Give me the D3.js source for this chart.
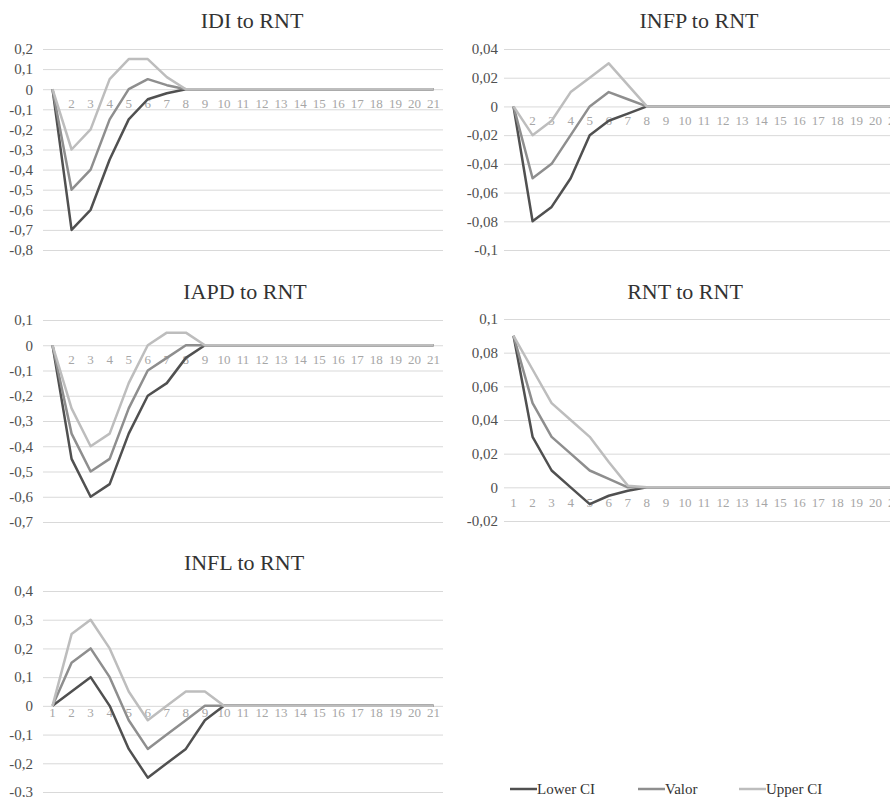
<!DOCTYPE html>
<html>
<head>
<meta charset="utf-8">
<script src="https://cdn.jsdelivr.net/npm/d3@7"></script>
<style>
  body { margin: 0; background: #fff; }
</style>
</head>
<body>
<script>
// periods on the x axis
const periods = [1, 2, 3, 4, 5, 6, 7, 8, 9, 10, 11, 12, 13, 14, 15, 16, 17, 18, 19, 20, 21];
const seriesNames = ["Lower CI", "Valor", "Upper CI"];

// IDI to RNT
const idiLower = [0, -0.7, -0.6, -0.35, -0.15, -0.05, -0.02, 0, 0, 0, 0, 0, 0, 0, 0, 0, 0, 0, 0, 0, 0];
const idiValor = [0, -0.5, -0.4, -0.15, 0, 0.05, 0.02, 0, 0, 0, 0, 0, 0, 0, 0, 0, 0, 0, 0, 0, 0];
const idiUpper = [0, -0.3, -0.2, 0.05, 0.15, 0.15, 0.06, 0, 0, 0, 0, 0, 0, 0, 0, 0, 0, 0, 0, 0, 0];
const idiTicks = [0.2, 0.1, 0, -0.1, -0.2, -0.3, -0.4, -0.5, -0.6, -0.7, -0.8];

// INFP to RNT
const infpLower = [0, -0.08, -0.07, -0.05, -0.02, -0.01, -0.005, 0, 0, 0, 0, 0, 0, 0, 0, 0, 0, 0, 0, 0, 0];
const infpValor = [0, -0.05, -0.04, -0.02, 0, 0.01, 0.005, 0, 0, 0, 0, 0, 0, 0, 0, 0, 0, 0, 0, 0, 0];
const infpUpper = [0, -0.02, -0.01, 0.01, 0.02, 0.03, 0.015, 0, 0, 0, 0, 0, 0, 0, 0, 0, 0, 0, 0, 0, 0];
const infpTicks = [0.04, 0.02, 0, -0.02, -0.04, -0.06, -0.08, -0.1];

// IAPD to RNT
const iapdLower = [0, -0.45, -0.6, -0.55, -0.35, -0.2, -0.15, -0.05, 0, 0, 0, 0, 0, 0, 0, 0, 0, 0, 0, 0, 0];
const iapdValor = [0, -0.35, -0.5, -0.45, -0.25, -0.1, -0.05, 0, 0, 0, 0, 0, 0, 0, 0, 0, 0, 0, 0, 0, 0];
const iapdUpper = [0, -0.25, -0.4, -0.35, -0.15, 0, 0.05, 0.05, 0, 0, 0, 0, 0, 0, 0, 0, 0, 0, 0, 0, 0];
const iapdTicks = [0.1, 0, -0.1, -0.2, -0.3, -0.4, -0.5, -0.6, -0.7];

// RNT to RNT
const rntLower = [0.09, 0.03, 0.01, 0, -0.01, -0.005, -0.002, 0, 0, 0, 0, 0, 0, 0, 0, 0, 0, 0, 0, 0, 0];
const rntValor = [0.09, 0.05, 0.03, 0.02, 0.01, 0.005, 0, 0, 0, 0, 0, 0, 0, 0, 0, 0, 0, 0, 0, 0, 0];
const rntUpper = [0.09, 0.07, 0.05, 0.04, 0.03, 0.015, 0.001, 0, 0, 0, 0, 0, 0, 0, 0, 0, 0, 0, 0, 0, 0];
const rntTicks = [0.1, 0.08, 0.06, 0.04, 0.02, 0, -0.02];

// INFL to RNT
const inflLower = [0, 0.05, 0.1, 0, -0.15, -0.25, -0.2, -0.15, -0.05, 0, 0, 0, 0, 0, 0, 0, 0, 0, 0, 0, 0];
const inflValor = [0, 0.15, 0.2, 0.1, -0.05, -0.15, -0.1, -0.05, 0, 0, 0, 0, 0, 0, 0, 0, 0, 0, 0, 0, 0];
const inflUpper = [0, 0.25, 0.3, 0.2, 0.05, -0.05, 0, 0.05, 0.05, 0, 0, 0, 0, 0, 0, 0, 0, 0, 0, 0, 0];
const inflTicks = [0.4, 0.3, 0.2, 0.1, 0, -0.1, -0.2, -0.3];

const colors = ["#505050", "#8e8e8e", "#bdbdbd"];
const FONT = "'Liberation Serif', 'Times New Roman', serif";

// panel layout (pixel positions in the picture)
const panels = [
    {title: "IDI to RNT", series: [idiLower, idiValor, idiUpper], ticks: idiTicks,
     x0: 43, top: 49, bottom: 250, pad: 10, titleX: 252, titleY: 28, labelOff: 19, hideFirst: true},
    {title: "INFP to RNT", series: [infpLower, infpValor, infpUpper], ticks: infpTicks,
     x0: 504, top: 49, bottom: 250, pad: 6, titleX: 699, titleY: 28, labelOff: 19, hideFirst: true},
    {title: "IAPD to RNT", series: [iapdLower, iapdValor, iapdUpper], ticks: iapdTicks,
     x0: 43, top: 320, bottom: 522, pad: 10, titleX: 245, titleY: 299, labelOff: 19, hideFirst: true},
    {title: "RNT to RNT", series: [rntLower, rntValor, rntUpper], ticks: rntTicks,
     x0: 504, top: 319, bottom: 521, pad: 6, titleX: 685, titleY: 299, labelOff: 20, hideFirst: false},
    {title: "INFL to RNT", series: [inflLower, inflValor, inflUpper], ticks: inflTicks,
     x0: 43, top: 591, bottom: 792, pad: 10, titleX: 244, titleY: 570, labelOff: 11, hideFirst: false}
];

const plotWidth = 400;
const fmt = d => d === 0 ? "0" : String(d).replace(".", ",");

const svg = d3.select("body").append("svg")
    .attr("width", 890)
    .attr("height", 797)
    .style("display", "block")
    .style("font-family", FONT);

panels.forEach(p => {
    const g = svg.append("g");

    const x = d3.scaleBand()
        .domain(periods)
        .range([p.x0, p.x0 + plotWidth])
        .paddingInner(0);

    const y = d3.scaleLinear()
        .domain([d3.min(p.ticks), d3.max(p.ticks)])
        .range([p.bottom, p.top]);

    // title
    g.append("text")
        .attr("x", p.titleX)
        .attr("y", p.titleY)
        .attr("text-anchor", "middle")
        .style("font-family", FONT)
        .style("font-size", "22px")
        .style("fill", "#333")
        .text(p.title);

    // y gridlines + labels
    const yAxis = g.append("g")
        .attr("transform", `translate(${p.x0}, 0)`)
        .call(d3.axisLeft(y)
            .tickValues(p.ticks)
            .tickSize(-plotWidth)
            .tickPadding(p.pad)
            .tickFormat(fmt));
    yAxis.attr("font-family", null);
    yAxis.select(".domain").remove();
    yAxis.selectAll(".tick line").attr("stroke", "#d9d9d9").attr("stroke-width", 1);
    yAxis.selectAll(".tick text")
        .style("font-family", FONT)
        .style("font-size", "15px")
        .style("fill", "#505050");

    // category labels (the first one sits under the lines in some panels)
    const xAxis = g.append("g")
        .attr("transform", `translate(0, ${y(0) + p.labelOff})`)
        .call(d3.axisBottom(x).tickSize(0).tickPadding(0)
            .tickFormat(d => (p.hideFirst && d === periods[0]) ? "" : d));
    xAxis.attr("font-family", null);
    xAxis.select(".domain").remove();
    xAxis.selectAll(".tick text")
        .attr("y", 0)
        .attr("dy", 0)
        .style("font-family", FONT)
        .style("font-size", "13px")
        .style("fill", "#a6a6a6");

    // lines
    const line = d3.line()
        .x((d, i) => x(periods[i]) + x.bandwidth() / 2)
        .y(d => y(d));

    p.series.forEach((s, k) => {
        g.append("path")
            .datum(s)
            .attr("d", line)
            .attr("fill", "none")
            .attr("stroke", colors[k])
            .attr("stroke-width", 2.5)
            .attr("stroke-linejoin", "round");
    });
});

// legend
const legendX = [510, 638, 739];
const legend = svg.append("g");
seriesNames.forEach((name, k) => {
    legend.append("line")
        .attr("x1", legendX[k])
        .attr("x2", legendX[k] + 27)
        .attr("y1", 789)
        .attr("y2", 789)
        .attr("stroke", colors[k])
        .attr("stroke-width", 2.5);
    legend.append("text")
        .attr("x", legendX[k] + 27)
        .attr("y", 789)
        .attr("dy", "0.32em")
        .style("font-family", FONT)
        .style("font-size", "15px")
        .style("fill", "#333")
        .text(name);
});
</script>
</body>
</html>
